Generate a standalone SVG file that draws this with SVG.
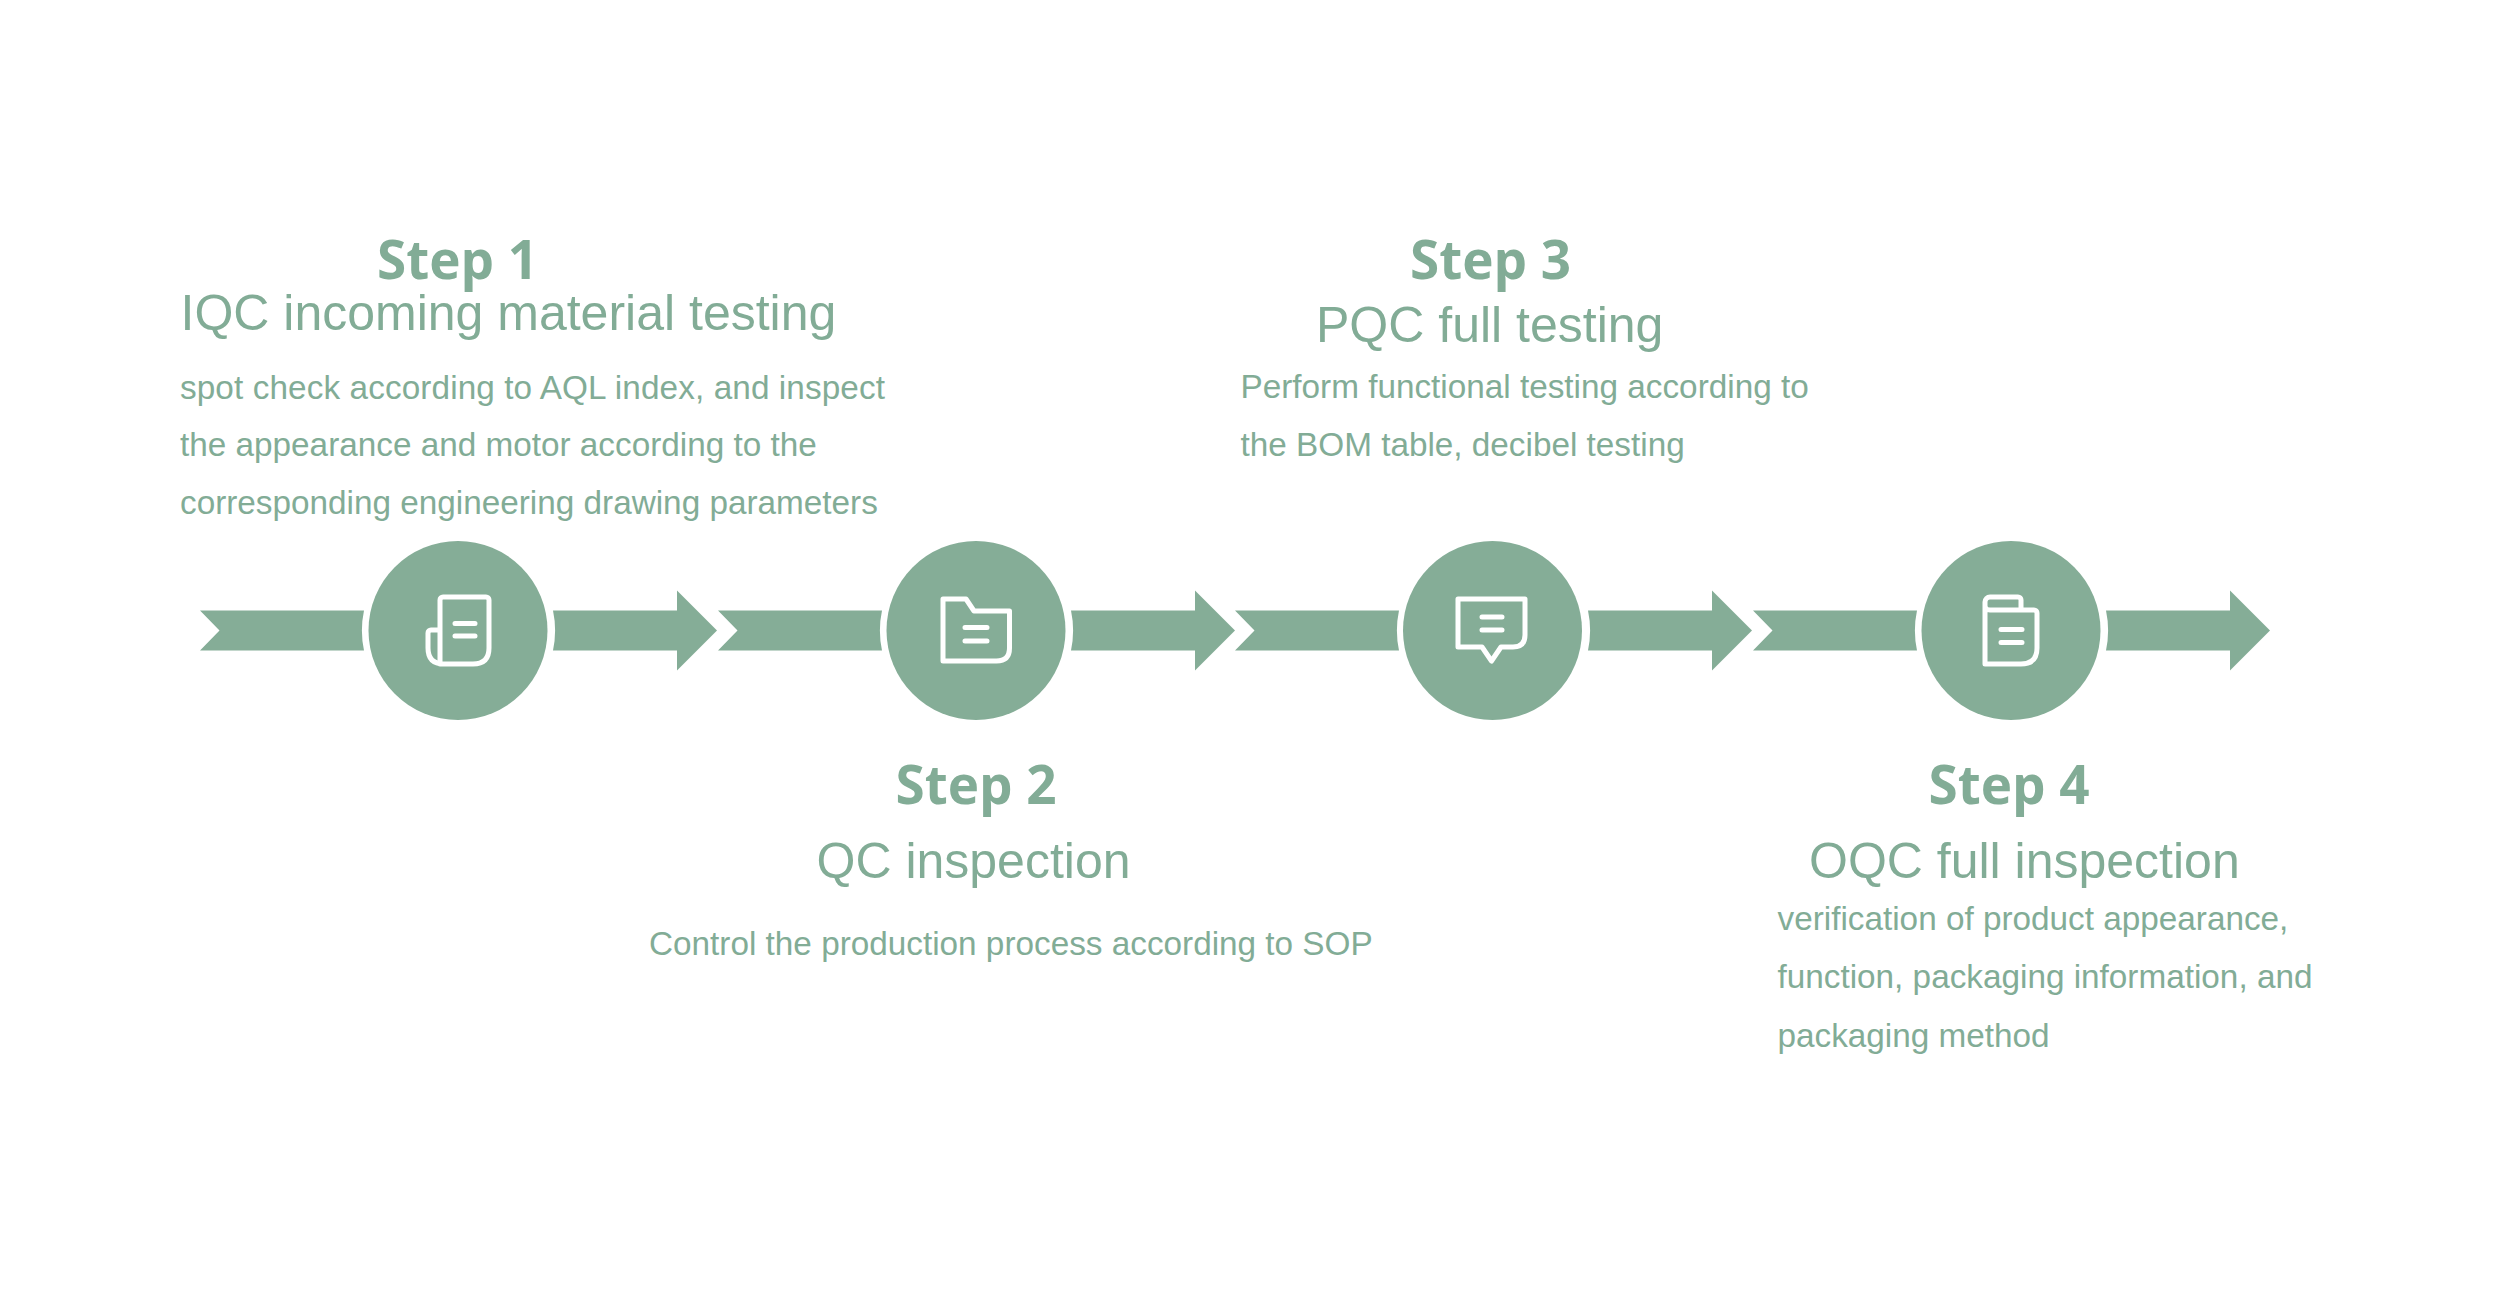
<svg xmlns="http://www.w3.org/2000/svg" width="2500" height="1296" viewBox="0 0 2500 1296">
<style>
.s{font-family:"Open Sans","Noto Sans",sans-serif;font-weight:700;font-size:53px;fill:#82ac96}
.h{font-family:"Liberation Sans",Arial,sans-serif;font-size:50px;fill:#82ac96}
.b{font-family:"Liberation Sans",Arial,sans-serif;font-size:33.3px;fill:#82ac96}
.c{fill:#85ad97}
.i{fill:none;stroke:#fff;stroke-width:5;stroke-linejoin:round;stroke-linecap:round}
</style>
<defs>
<path id="seg" class="c" d="M-258 -20H-94A97 97 0 0 0 -94 20H-258L-238.5 0ZM95 -20H219V-40L259 0L219 40V20H95A97 97 0 0 0 95 -20Z"/>
</defs>
<rect width="2500" height="1296" fill="#fff"/>
<g id="connectors">
<use href="#seg" x="458" y="630.5"/>
<use href="#seg" x="976" y="630.5"/>
<use href="#seg" x="1493" y="630.5"/>
<use href="#seg" x="2011" y="630.5"/>
</g>
<g id="step1">
<circle class="c" cx="458" cy="630.5" r="89.5"/>
<path class="i" d="M440 664V600a3 3 0 0 1 3-3H486a3 3 0 0 1 3 3V648q0 16-16 16H444q-16 0-16-16V633a3 3 0 0 1 3-3H440M455 623.5H475M455 636H475"/>
<text class="s" x="377" y="279">Step 1</text>
<text class="h" x="180.5" y="329.5">IQC incoming material testing</text>
<text class="b" x="180" y="398.5" textLength="705">spot check according to AQL index, and inspect</text>
<text class="b" x="180" y="456">the appearance and motor according to the</text>
<text class="b" x="180" y="514">corresponding engineering drawing parameters</text>
</g>
<g id="step2">
<circle class="c" cx="976" cy="630.5" r="89.5"/>
<path class="i" d="M943 599H966L974 611H1009.5V648q0 13-13 13H943ZM965 627.5H987M965 641H987"/>
<text class="s" x="895.5" y="804">Step 2</text>
<text class="h" x="816.5" y="877.5">QC inspection</text>
<text class="b" x="649" y="954.5">Control the production process according to SOP</text>
</g>
<g id="step3">
<circle class="c" cx="1492.5" cy="630.5" r="89.5"/>
<path class="i" d="M1458 599H1525V635q0 12-12 12H1501L1491.5 661L1482 647H1458ZM1482 617H1502M1482 630H1502"/>
<text class="s" x="1410" y="279">Step 3</text>
<text class="h" x="1316" y="342">PQC full testing</text>
<text class="b" x="1240.5" y="398">Perform functional testing according to</text>
<text class="b" x="1240.5" y="456">the BOM table, decibel testing</text>
</g>
<g id="step4">
<circle class="c" cx="2011" cy="630.5" r="89.5"/>
<path class="i" d="M1985 664V602a5 5 0 0 1 5-5H2018a3 3 0 0 1 3 3V610H2034a3 3 0 0 1 3 3V648q0 16-16 16ZM1985 606q0 4 5 4H2021M2001 629.5H2022M2001 642.5H2022"/>
<text class="s" x="1928.5" y="804">Step 4</text>
<text class="h" x="1809" y="877.5">OQC full inspection</text>
<text class="b" x="1777.5" y="930">verification of product appearance,</text>
<text class="b" x="1777.5" y="988">function, packaging information, and</text>
<text class="b" x="1777.5" y="1047">packaging method</text>
</g>
</svg>
